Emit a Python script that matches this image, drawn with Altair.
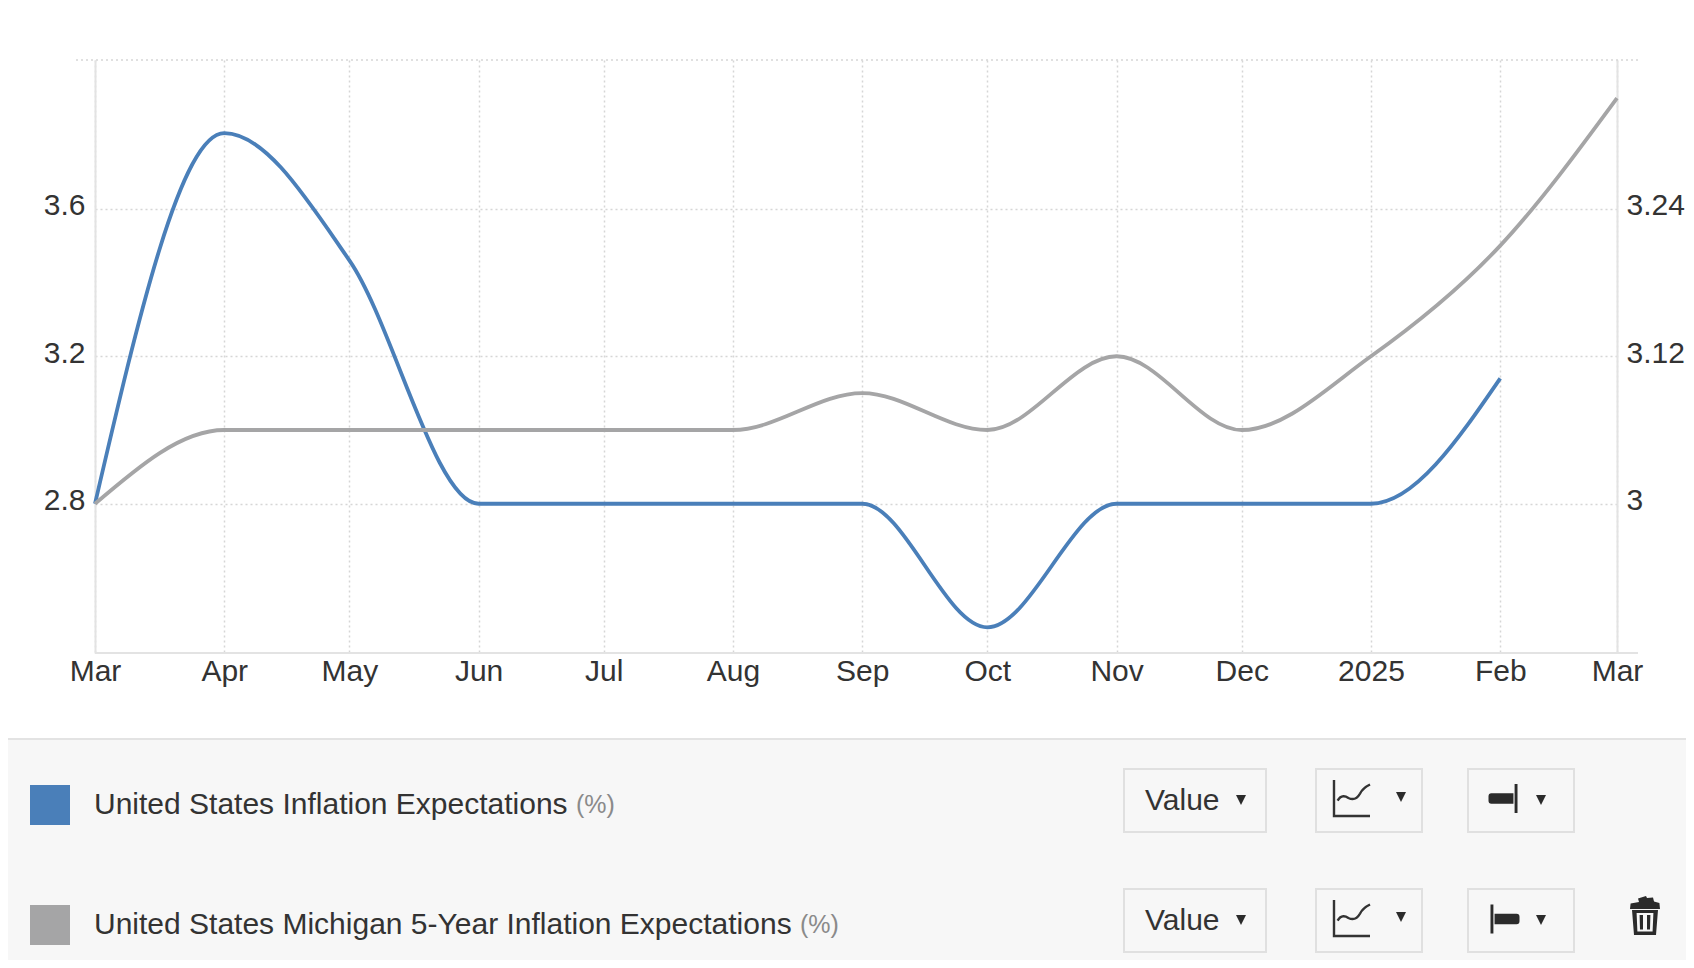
import altair as alt
import pandas as pd

# ---- chart values ----
months = ["2024-03-01", "2024-04-01", "2024-05-01", "2024-06-01", "2024-07-01", "2024-08-01",
          "2024-09-01", "2024-10-01", "2024-11-01", "2024-12-01", "2025-01-01", "2025-02-01", "2025-03-01"]
inflation = [2.8, 3.805, 3.46, 2.8, 2.8, 2.8, 2.8, 2.465, 2.8, 2.8, 2.8, 3.14, None]
michigan = [3.0, 3.06, 3.06, 3.06, 3.06, 3.06, 3.09, 3.06, 3.12, 3.06, 3.12, 3.21, 3.33]
left_ticks = [3.6, 3.2, 2.8]
right_ticks = [3.24, 3.12, 3.0]
name_blue = "United States Inflation Expectations"
name_gray = "United States Michigan 5-Year Inflation Expectations"
unit = "(%)"
button_text = "Value"

BLUE = "#4a7fb9"
GRAY = "#a5a5a6"
INK = "#333333"
LINE = "#e3e3e3"
DOT = "#d6d6d6"
PANEL = "#f7f7f7"
FONT = "Liberation Sans"
PW, PH = 1522, 593


def X(v):
    return alt.value(v - 95)


def Y(v):
    return alt.value(v - 60)


one = alt.Data(values=[{"k": 1}])
df = pd.DataFrame({"month": months, "inflation": inflation, "michigan": michigan})

x_enc = alt.X(
    "month:T",
    title=None,
    scale=alt.Scale(type="utc", domain=[months[0], months[-1]], nice=False),
    axis=alt.Axis(
        tickCount={"interval": "month", "step": 1},
        labelExpr="utcmonth(datum.value)==0 ? utcyear(datum.value)+'' : utcFormat(datum.value,'%b')",
        labelFont=FONT, labelFontSize=30, labelColor=INK, labelPadding=3,
        labelOverlap=False, labelFlush=False, labelBound=False,
        ticks=False, domain=False,
        grid=True, gridColor=DOT, gridDash=[2, 3], gridWidth=1.5,
    ),
)

blue = alt.Chart(df.dropna()).mark_line(color=BLUE, strokeWidth=3.8, interpolate="monotone").encode(
    x=x_enc,
    y=alt.Y(
        "inflation:Q", title=None,
        scale=alt.Scale(domain=[2.3953, 4.0033], nice=False, zero=False),
        axis=alt.Axis(
            orient="left", values=left_ticks, format=".1f",
            labelFont=FONT, labelFontSize=30, labelColor=INK, labelPadding=10, labelOffset=-3,
            ticks=False, domain=True, domainColor=LINE, domainWidth=2,
            grid=True, gridColor=DOT, gridDash=[2, 3], gridWidth=1.5,
        ),
    ),
)

gray = alt.Chart(df).mark_line(color=GRAY, strokeWidth=3.8, interpolate="monotone").encode(
    x=alt.X("month:T"),
    y=alt.Y(
        "michigan:Q", title=None,
        scale=alt.Scale(domain=[2.8786, 3.3610], nice=False, zero=False),
        axis=alt.Axis(
            orient="right", values=right_ticks, format=".2~f",
            labelFont=FONT, labelFontSize=30, labelColor=INK, labelPadding=9, labelOffset=-3,
            ticks=False, domain=True, domainColor=LINE, domainWidth=2, grid=False,
        ),
    ),
)

# frame lines beyond the axes
top_rule = alt.Chart(one).mark_rule(color=DOT, strokeDash=[2, 3], strokeWidth=1.5).encode(
    x=X(76), x2=X(1638), y=Y(60))
bottom_rule = alt.Chart(one).mark_rule(color=LINE, strokeWidth=2).encode(
    x=X(95), x2=X(1638), y=Y(653))

# legend panel
panel = alt.Chart(one).mark_rect(color=PANEL).encode(x=X(8), x2=X(1686), y=Y(740), y2=Y(960))
panel_line = alt.Chart(one).mark_rule(color=LINE, strokeWidth=2).encode(x=X(8), x2=X(1686), y=Y(739))


def swatch(color, y0):
    return alt.Chart(one).mark_rect(color=color).encode(x=X(30), x2=X(70), y=Y(y0), y2=Y(y0 + 40))


def text(s, x, y, size=30, color=INK, align="left"):
    return alt.Chart(one).mark_text(
        text=s, font=FONT, fontSize=size, color=color, align=align, baseline="middle"
    ).encode(x=X(x), y=Y(y))


def box(x0, x1, y0):
    return alt.Chart(one).mark_rect(fill=PANEL, stroke="#e0e0e0", strokeWidth=2).encode(
        x=X(x0), x2=X(x1), y=Y(y0), y2=Y(y0 + 63))


def icon(path, x, y, span, filled=True, width=2.4):
    kw = dict(filled=True, fill="#2b2b2b", stroke=None, opacity=1) if filled else dict(
        filled=False, stroke="#333333", strokeWidth=width, opacity=1)
    return alt.Chart(one).mark_point(shape=path, size=span * span, **kw).encode(x=X(x), y=Y(y))


ARROW = "M-1,-1 L1,-1 L0,1 Z"
CHART = ("M-1,-1 L-1,1 L1,1 M-0.8,0.15 C-0.6,-0.2 -0.35,-0.1 -0.2,0.0 "
         "C0,0.1 0.25,0.1 0.45,-0.25 C0.6,-0.55 0.8,-0.65 1,-0.75")
AXIS_R = ("M-1,-0.15 Q-1,-0.36 -0.8,-0.36 L0.72,-0.36 L0.72,0.36 L-0.8,0.36 Q-1,0.36 -1,0.15 Z "
          "M0.8,-1 L1,-1 L1,1 L0.8,1 Z")
AXIS_L = ("M1,-0.15 Q1,-0.36 0.8,-0.36 L-0.72,-0.36 L-0.72,0.36 L0.8,0.36 Q1,0.36 1,0.15 Z "
          "M-1,-1 L-0.8,-1 L-0.8,1 L-1,1 Z")
TRASH = ("M-0.75,-0.33 L-0.72,-0.6 L-0.3,-0.68 L-0.35,-0.85 L0.05,-0.98 L0.1,-0.88 L0.4,-0.9 "
         "L0.45,-0.7 L0.72,-0.62 L0.75,-0.33 Z "
         "M-0.65,-0.275 L0.65,-0.275 L0.55,0.975 L-0.55,0.975 Z "
         "M-0.42,-0.12 L-0.38,0.8 L0.38,0.8 L0.42,-0.12 Z "
         "M-0.27,-0.02 L-0.1,-0.02 L-0.1,0.7 L-0.25,0.7 Z "
         "M0.1,-0.02 L0.27,-0.02 L0.25,0.7 L0.1,0.7 Z")


def row(y0):
    cy = y0 + 32
    return [
        box(1124, 1266, y0 + 1), box(1316, 1422, y0 + 1), box(1468, 1574, y0 + 1),
        text(button_text, 1145, cy + 1, 30),
        icon(ARROW, 1241, cy, 10),
        icon(CHART, 1352, cy - 2, 36, filled=False),
        icon(ARROW, 1401, cy - 3, 10),
        icon(ARROW, 1541, cy, 10),
    ]


layers = [
    top_rule, bottom_rule, blue, gray,
    panel, panel_line,
    swatch(BLUE, 785), swatch(GRAY, 905),
    text(name_blue, 94, 805), text(unit, 576, 805, 25, "#8a8a8a"),
    text(name_gray, 94, 925), text(unit, 800, 925, 25, "#8a8a8a"),
    *row(768), *row(888),
    icon(AXIS_R, 1503, 798.5, 29),
    icon(AXIS_L, 1505, 919, 29),
    icon(TRASH, 1645, 915.5, 40),
]

chart = alt.layer(*layers).resolve_scale(y="independent").properties(
    width=PW, height=PH,
    padding={"left": 87, "top": 52, "right": 69, "bottom": 307},
    autosize=alt.AutoSizeParams(type="none"),
    background="white",
).configure_view(stroke=None)

chart.save("out.html", embed_options={"renderer": "svg", "actions": False})
